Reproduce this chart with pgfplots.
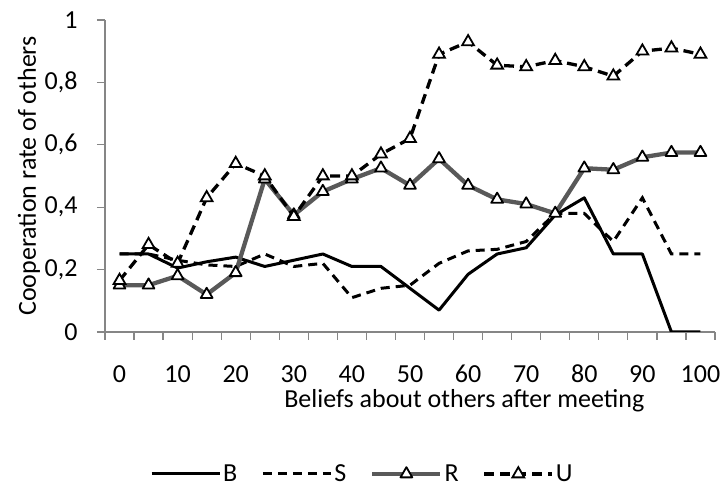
\documentclass[border=0pt]{standalone}
\usepackage{pgfplots}
\pgfplotsset{compat=1.18}
\usepackage{fontspec}
\setmainfont{Carlito}

\definecolor{axisgray}{HTML}{868686}
\definecolor{rgray}{HTML}{595959}

\begin{document}
\begin{tikzpicture}[font=\fontsize{26pt}{31pt}\selectfont]
  \useasboundingbox (0,0) rectangle (724pt,487pt);
  \begin{axis}[
    at={(105pt,155pt)}, anchor=south west,
    scale only axis,
    width=610pt, height=312pt,
    xmin=-2.5, xmax=102.5,
    ymin=0, ymax=1,
    axis x line=bottom, axis y line=left,
    axis line style={-, draw=axisgray, line width=1.2pt},
    every tick/.style={draw=axisgray, line width=1.2pt},
    tick align=outside,
    major tick length=8pt, minor tick length=8pt,
    xtick={0,10,...,100},
    major x tick style={draw=none},
    minor xtick={-2.5,2.5,...,102.5},
    ytick={0,0.2,0.4,0.6,0.8,1},
    /pgf/number format/assume math mode=true,
    /pgf/number format/use comma,
    /pgf/number format/fixed,
    /pgf/number format/precision=1,
    xticklabel style={anchor=base, yshift=-43pt},
    yticklabel style={anchor=east, xshift=-16pt},
    xlabel={Beliefs about others after meeting},
    xlabel style={at={(axis description cs:0.589,0)}, anchor=base, yshift=-76pt},
    ylabel={Cooperation rate of others},
    ylabel style={at={(axis description cs:-0.1246,0.5)}, anchor=center},
    legend columns=4,
    legend style={draw=none, fill=none, at={(axis description cs:0.422,-0.455)}, anchor=center,
      /tikz/every even column/.append style={column sep=22pt}},
    legend image code/.code={\draw[mark repeat=2, mark phase=2] plot coordinates {(0pt,0pt) (34pt,0pt) (68pt,0pt)};},
  ]
    % B
    \addplot[black, line width=3pt, line join=round] coordinates {
      (0,0.25) (5,0.25) (10,0.205) (15,0.225) (20,0.24) (25,0.21) (30,0.23)
      (35,0.25) (40,0.21) (45,0.21) (50,0.14) (55,0.07) (60,0.185) (65,0.25)
      (70,0.27) (75,0.375) (80,0.43) (85,0.25) (90,0.25) (95,0) (100,0)
    };
    \addlegendentry{B}
    % S
    \addplot[black, line width=3pt, dash pattern=on 9pt off 6pt] coordinates {
      (0,0.25) (5,0.25) (10,0.23) (15,0.215) (20,0.21) (25,0.25) (30,0.21)
      (35,0.22) (40,0.11) (45,0.14) (50,0.15) (55,0.22) (60,0.26) (65,0.265)
      (70,0.29) (75,0.38) (80,0.38) (85,0.29) (90,0.43) (95,0.25) (100,0.25)
    };
    \addlegendentry{S}
    % R
    \addplot[rgray, line width=4.3pt, line join=round, mark=triangle*, mark size=6.8pt,
      mark options={solid, fill=white, draw=black, line width=1.8pt}] coordinates {
      (0,0.15) (5,0.15) (10,0.18) (15,0.12) (20,0.19) (25,0.49) (30,0.375)
      (35,0.45) (40,0.49) (45,0.525) (50,0.47) (55,0.555) (60,0.47) (65,0.425)
      (70,0.41) (75,0.38) (80,0.525) (85,0.52) (90,0.56) (95,0.575) (100,0.575)
    };
    \addlegendentry{R}
    % U
    \addplot[black, line width=3.3pt, dash pattern=on 10pt off 6pt, mark=triangle*, mark size=6.8pt,
      mark options={solid, fill=white, draw=black, line width=1.8pt}] coordinates {
      (0,0.165) (5,0.28) (10,0.22) (15,0.43) (20,0.54) (25,0.5) (30,0.37)
      (35,0.5) (40,0.5) (45,0.57) (50,0.62) (55,0.89) (60,0.93) (65,0.855)
      (70,0.85) (75,0.87) (80,0.85) (85,0.82) (90,0.9) (95,0.91) (100,0.89)
    };
    \addlegendentry{U}
  \end{axis}
\end{tikzpicture}
\end{document}
